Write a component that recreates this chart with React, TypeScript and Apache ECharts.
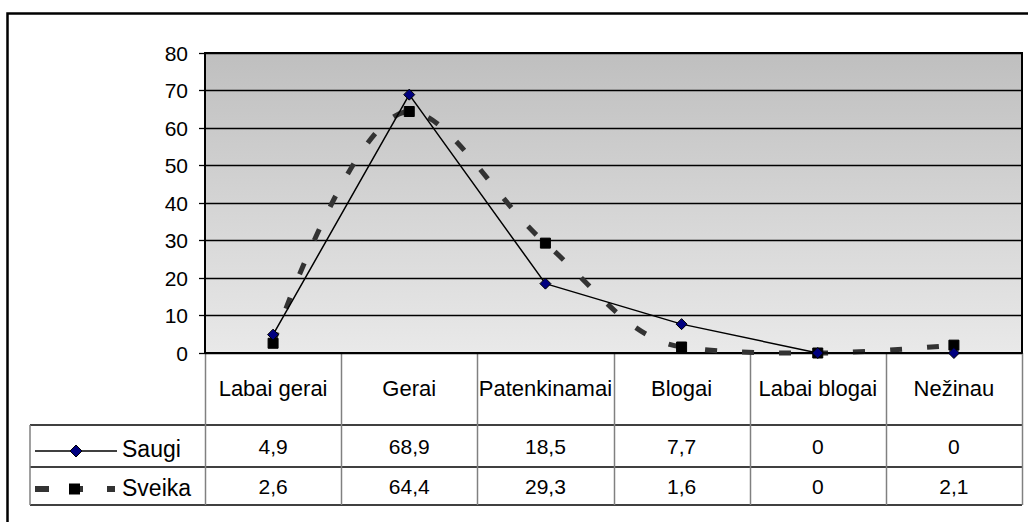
import React, { useEffect, useRef } from "react";
import * as echarts from "echarts";

const categories = ["Labai gerai", "Gerai", "Patenkinamai", "Blogai", "Labai blogai", "Nežinau"];
const saugi = [4.9, 68.9, 18.5, 7.7, 0, 0];
const sveika = [2.6, 64.4, 29.3, 1.6, 0, 2.1];
const seriesNames = ["Saugi", "Sveika"];
const yTicks = [0, 10, 20, 30, 40, 50, 60, 70, 80];

const W = 1028;
const H = 522;
const GRID_L = 205;
const GRID_R = 1022;
const GRID_T = 53;
const GRID_B = 353;
const ROW1 = 425;
const ROW2 = 467;
const ROW3 = 505;
const TABLE_L = 30;
const FONT = "'Liberation Sans', Arial, sans-serif";
const FS = 22;

const fmt = (v: number) => String(v).replace(".", ",");

export default function App() {
  const ref = useRef<HTMLDivElement>(null);
  useEffect(() => {
    if (!ref.current) return;
    const chart = echarts.init(ref.current, null, { renderer: "svg" });
    const colW = (GRID_R - GRID_L) / categories.length;
    const graphics: any[] = [];
    graphics.push({
      type: "rect",
      shape: { x: 7.5, y: 13.5, width: 1100, height: 600 },
      style: { fill: "none", stroke: "#000", lineWidth: 2.5 },
      silent: true,
    });
    [ROW1, ROW2, ROW3].forEach((y) => {
      graphics.push({
        type: "line",
        shape: { x1: TABLE_L, y1: y, x2: GRID_R, y2: y },
        style: { stroke: "#000", lineWidth: 1.3 },
        silent: true,
      });
    });
    graphics.push({
      type: "line",
      shape: { x1: TABLE_L, y1: ROW1, x2: TABLE_L, y2: ROW3 },
      style: { stroke: "#808080", lineWidth: 1.5 },
      silent: true,
    });
    for (let k = 0; k <= categories.length; k++) {
      const x = Math.round(GRID_L + colW * k) + 0.5;
      graphics.push({
        type: "line",
        shape: { x1: x, y1: GRID_B, x2: x, y2: ROW3 },
        style: { stroke: "#808080", lineWidth: 1.5 },
        silent: true,
      });
    }
    const y1 = 451;
    graphics.push({
      type: "line",
      shape: { x1: 35, y1, x2: 117, y2: y1 },
      style: { stroke: "#000", lineWidth: 1.5 },
      silent: true,
    });
    graphics.push({
      type: "polygon",
      shape: { points: [[76, y1 - 6], [82, y1], [76, y1 + 6], [70, y1]] },
      style: { fill: "#000080", stroke: "#000", lineWidth: 1 },
      silent: true,
    });
    const y2 = 489;
    graphics.push({ type: "rect", shape: { x: 35, y: y2 - 3, width: 14, height: 6 }, style: { fill: "#333" }, silent: true });
    graphics.push({ type: "rect", shape: { x: 78, y: y2 - 3, width: 5, height: 6 }, style: { fill: "#333" }, silent: true });
    graphics.push({ type: "rect", shape: { x: 69, y: y2 - 5.5, width: 11, height: 11 }, style: { fill: "#000" }, silent: true });
    graphics.push({ type: "rect", shape: { x: 107, y: y2 - 3, width: 8, height: 6 }, style: { fill: "#333" }, silent: true });
    graphics.push({
      type: "text",
      x: 122,
      y: 449,
      style: { text: seriesNames[0], font: `23px ${FONT}`, fill: "#000", verticalAlign: "middle", align: "left" },
      silent: true,
    });
    graphics.push({
      type: "text",
      x: 122,
      y: 488,
      style: { text: seriesNames[1], font: `23px ${FONT}`, fill: "#000", verticalAlign: "middle", align: "left" },
      silent: true,
    });

    const rowAxis = (offset: number, margin: number, values: number[]) => ({
      type: "category",
      data: categories,
      position: "bottom",
      offset,
      gridIndex: 0,
      axisLine: { show: false },
      axisTick: { show: false },
      splitLine: { show: false },
      axisLabel: {
        interval: 0,
        margin,
        fontSize: 21,
        lineHeight: 21,
        fontFamily: FONT,
        color: "#000",
        formatter: (_v: string, i: number) => fmt(values[i]),
      },
    });

    chart.setOption({
      animation: false,
      backgroundColor: "#fff",
      grid: {
        left: GRID_L,
        right: W - GRID_R,
        top: GRID_T,
        bottom: H - GRID_B,
        show: true,
        borderColor: "#000",
        borderWidth: 2,
        backgroundColor: new echarts.graphic.LinearGradient(0, 0, 0, 1, [
          { offset: 0, color: "#bfbfbf" },
          { offset: 1, color: "#e9e9e9" },
        ]),
      },
      xAxis: [
        {
          type: "category",
          data: categories,
          boundaryGap: true,
          axisLine: { show: true, lineStyle: { color: "#000", width: 2 } },
          axisTick: { show: false },
          splitLine: { show: false },
          axisLabel: {
            interval: 0,
            margin: 24,
            fontSize: FS,
            lineHeight: FS,
            fontFamily: FONT,
            color: "#000",
          },
        },
        rowAxis(ROW1 - GRID_B, 10.5, saugi),
        rowAxis(ROW2 - GRID_B, 8.5, sveika),
      ],
      yAxis: {
        type: "value",
        min: yTicks[0],
        max: yTicks[yTicks.length - 1],
        interval: yTicks[1] - yTicks[0],
        axisLine: { show: true, lineStyle: { color: "#000", width: 2 } },
        axisTick: { show: true, length: 6, lineStyle: { color: "#000", width: 1.3 } },
        splitLine: { show: true, lineStyle: { color: "#000", width: 1.3 } },
        axisLabel: { margin: 17, fontSize: 21, fontFamily: FONT, color: "#000" },
      },
      graphic: graphics,
      series: [
        {
          name: seriesNames[1],
          type: "line",
          data: sveika,
          smooth: 0.35,
          clip: false,
          z: 2,
          symbol: "rect",
          symbolSize: 10,
          itemStyle: { color: "#000", borderColor: "#000" },
          lineStyle: { color: "#333", width: 5, type: [12, 25], cap: "butt" },
        },
        {
          name: seriesNames[0],
          type: "line",
          data: saugi,
          smooth: false,
          clip: false,
          z: 3,
          symbol: "diamond",
          symbolSize: 11,
          itemStyle: { color: "#000080", borderColor: "#000", borderWidth: 1 },
          lineStyle: { color: "#000", width: 1.5 },
        },
      ],
    });
    return () => chart.dispose();
  }, []);
  return <div ref={ref} style={{ position: "fixed", left: 0, top: 0, width: W, height: H }} />;
}
